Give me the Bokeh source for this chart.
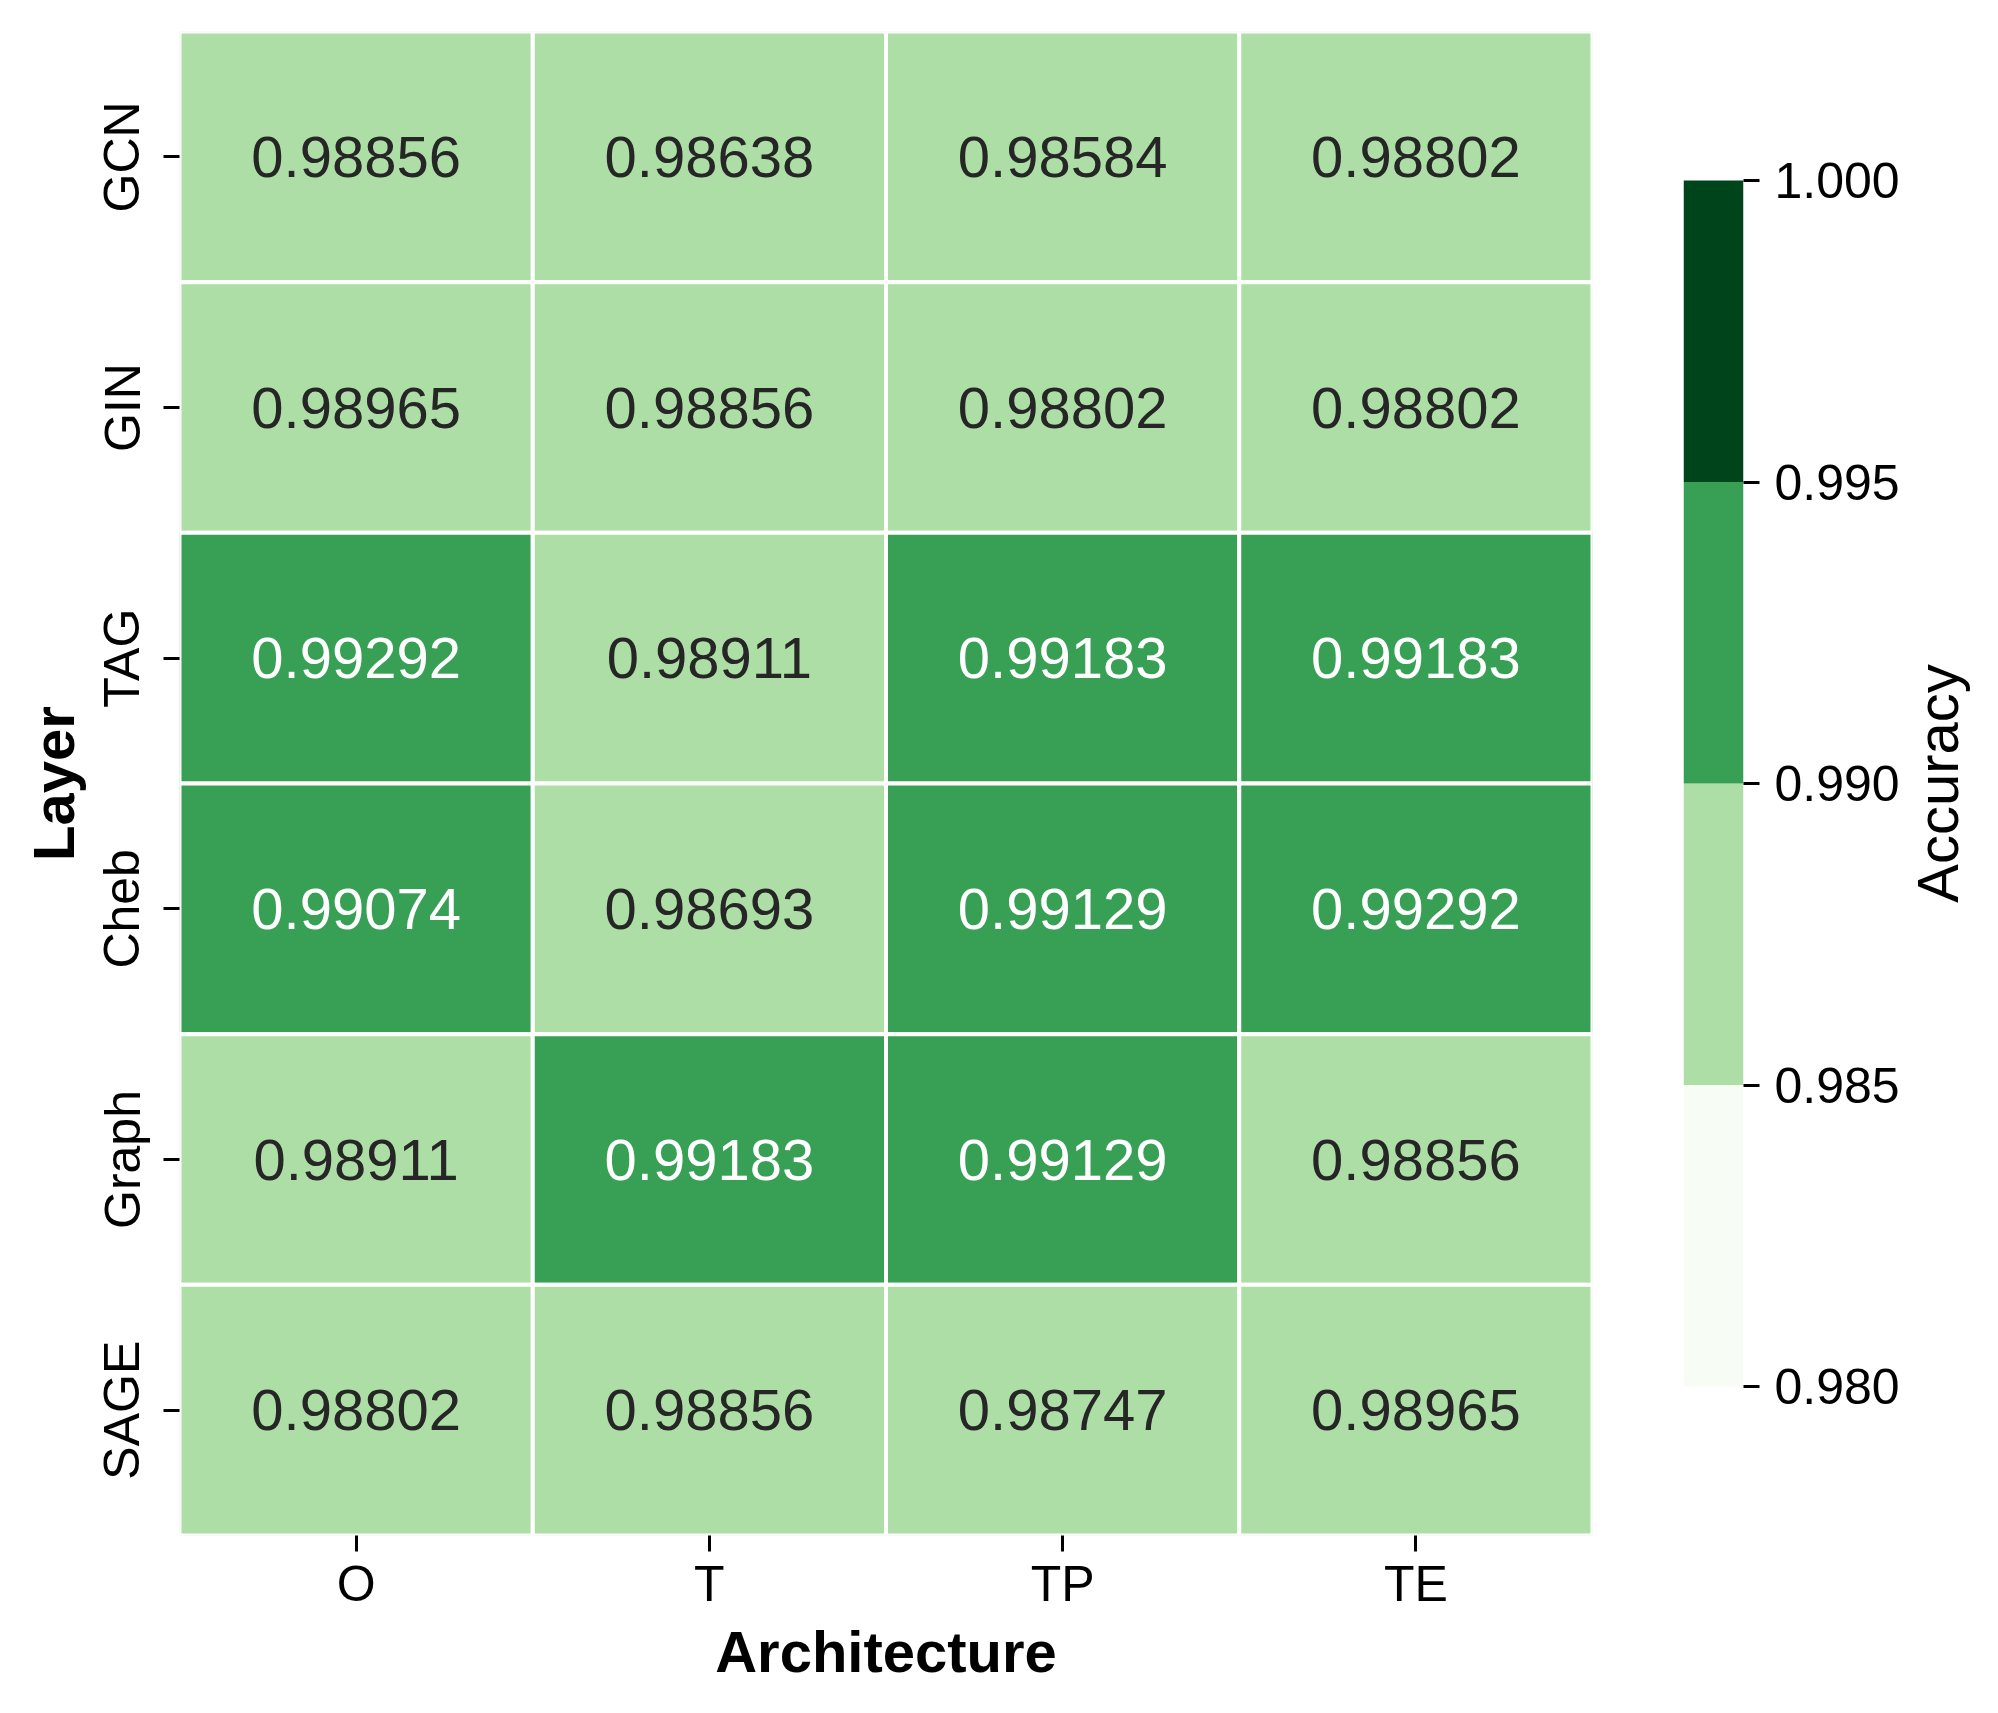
import math
from bokeh.plotting import figure
from bokeh.models import FactorRange, Range1d, FixedTicker, NumeralTickFormatter, ColumnDataSource, LinearColorMapper
from bokeh.transform import transform
from bokeh.layouts import row
from bokeh.embed import file_html
from bokeh.resources import INLINE
from bokeh.core.properties import value

layers = ["GCN", "GIN", "TAG", "Cheb", "Graph", "SAGE"]
archs = ["O", "T", "TP", "TE"]
acc_O = [0.98856, 0.98965, 0.99292, 0.99074, 0.98911, 0.98802]
acc_T = [0.98638, 0.98856, 0.98911, 0.98693, 0.99183, 0.98856]
acc_TP = [0.98584, 0.98802, 0.99183, 0.99129, 0.99129, 0.98747]
acc_TE = [0.98802, 0.98802, 0.99183, 0.99292, 0.98856, 0.98965]
bin_edges = [0.980, 0.985, 0.990, 0.995, 1.000]
palette = ["#f7fcf5", "#addea6", "#37a055", "#00441b"]
cbar_title = "Accuracy"

FONT = "Liberation Sans"

# layout (pixels)
FRAME_H = 1504
TOP = 31
BOTTOM = 163
CB_TOP_OFF = 149      # colorbar top below frame top
CB_H = 1206

xs, ys, vals = [], [], []
for a, col in zip(archs, [acc_O, acc_T, acc_TP, acc_TE]):
    for l, v in zip(layers, col):
        xs.append(a); ys.append(l); vals.append(v)
labels = ["%.5f" % v for v in vals]
tcolors = ["#ffffff" if v >= bin_edges[2] else "#262626" for v in vals]
src = ColumnDataSource(dict(x=xs, y=ys, v=vals, label=labels, tc=tcolors))
mapper = LinearColorMapper(palette=palette, low=bin_edges[0], high=bin_edges[-1])

p1 = figure(x_range=FactorRange(*archs), y_range=FactorRange(*reversed(layers)),
            frame_width=1413, frame_height=FRAME_H,
            min_border_left=179, min_border_top=TOP, min_border_bottom=BOTTOM, min_border_right=60,
            output_backend="svg", toolbar_location=None)
p1.rect(x="x", y="y", width=1, height=1, source=src,
        fill_color=transform("v", mapper), line_color="white", line_width=4)
p1.text(x="x", y="y", text="label", source=src, text_color="tc",
        text_align="center", text_baseline="middle",
        text_font=value(FONT), text_font_size="58px")
p1.outline_line_color = None
p1.grid.visible = False
for ax in (p1.xaxis[0], p1.yaxis[0]):
    ax.axis_line_color = None
    ax.major_tick_line_width = 3
    ax.major_tick_line_color = "black"
    ax.major_tick_out = 16
    ax.major_tick_in = 0
    ax.minor_tick_line_color = None
    ax.major_label_text_font = FONT
    ax.major_label_text_font_size = "50px"
    ax.major_label_text_color = "black"
    ax.axis_label_text_font = FONT
    ax.axis_label_text_font_size = "58px"
    ax.axis_label_text_font_style = "bold"
    ax.axis_label_text_color = "black"
p1.xaxis.axis_label = "Architecture"
p1.yaxis.axis_label = "Layer"
p1.xaxis.major_label_standoff = 4
p1.xaxis.axis_label_standoff = 4
p1.yaxis.major_label_orientation = "vertical"
p1.yaxis.major_label_standoff = 13
p1.yaxis.axis_label_standoff = 6

# colorbar panel: frame spans full heatmap height; the bar occupies its middle part
px_per_unit = CB_H / (bin_edges[-1] - bin_edges[0])
y_hi = bin_edges[-1] + CB_TOP_OFF / px_per_unit
y_lo = bin_edges[0] - (FRAME_H - CB_TOP_OFF - CB_H) / px_per_unit

cb = ColumnDataSource(dict(bottom=bin_edges[:-1], top=bin_edges[1:], color=palette))
p2 = figure(x_range=Range1d(0, 1), y_range=Range1d(y_lo, y_hi),
            frame_width=60, frame_height=FRAME_H,
            min_border_left=31, min_border_top=TOP, min_border_bottom=BOTTOM, min_border_right=150,
            y_axis_location="right", output_backend="svg", toolbar_location=None)
p2.quad(left=0, right=1, bottom="bottom", top="top", fill_color="color", line_color=None, source=cb)
p2.outline_line_color = None
p2.grid.visible = False
p2.xaxis.visible = False
ay = p2.yaxis[0]
ay.ticker = FixedTicker(ticks=bin_edges)
ay.formatter = NumeralTickFormatter(format="0.000")
ay.axis_line_color = None
ay.major_tick_line_width = 3
ay.major_tick_out = 16
ay.major_tick_in = 0
ay.minor_tick_line_color = None
ay.major_label_standoff = 15
ay.major_label_text_font = FONT
ay.major_label_text_font_size = "50px"
ay.major_label_text_color = "black"

# colorbar title, rotated to read bottom-to-top
p3 = figure(x_range=Range1d(0, 1), y_range=Range1d(0, 1),
            frame_width=70, frame_height=FRAME_H,
            min_border_left=0, min_border_top=TOP, min_border_bottom=BOTTOM, min_border_right=0,
            output_backend="svg", toolbar_location=None)
p3.axis.visible = False
p3.grid.visible = False
p3.outline_line_color = None
p3.text(x=[0.50], y=[0.5], text=[cbar_title], angle=math.pi / 2,
        text_align="center", text_baseline="alphabetic",
        text_font=value(FONT), text_font_size="58px", text_color="black")

layout = row(p1, p2, p3)
open("out.html", "w").write(file_html(layout, INLINE))
